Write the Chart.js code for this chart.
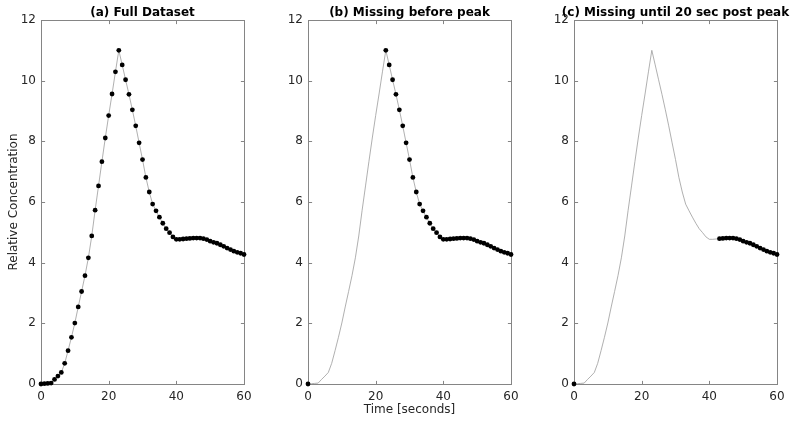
<!DOCTYPE html>
<html><head><meta charset="utf-8">
<script src="https://cdn.jsdelivr.net/npm/chart.js@4/dist/chart.umd.min.js"></script>
<style>
html,body{margin:0;padding:0;background:#fff;width:800px;height:424px;overflow:hidden;position:relative}
canvas{position:absolute;top:0;width:266px;height:424px}
</style></head><body>
<canvas id="c0" width="266" height="424" style="left:0px"></canvas>
<canvas id="c1" width="266" height="424" style="left:267px"></canvas>
<canvas id="c2" width="266" height="424" style="left:533px"></canvas>
<script>
// ---- data ----
const time = [0,1,2,3,4,5,6,7,8,9,10,11,12,13,14,15,16,17,18,19,20,21,22,23,24,25,26,27,28,29,30,
  31,32,33,34,35,36,37,38,39,40,41,42,43,44,45,46,47,48,49,50,51,52,53,54,55,56,57,58,59,60];
const concentration = [0,0.01,0.02,0.03,0.15,0.26,0.38,0.68,1.10,1.54,2.01,2.54,3.05,3.57,4.16,4.88,
  5.73,6.53,7.33,8.11,8.85,9.56,10.29,11.0,10.52,10.03,9.55,9.04,8.51,7.95,7.40,6.81,6.33,5.93,5.71,5.50,
  5.30,5.12,4.99,4.85,4.77,4.77,4.78,4.79,4.80,4.81,4.81,4.81,4.79,4.76,4.71,4.67,4.64,4.59,4.54,4.48,
  4.43,4.38,4.34,4.31,4.27];
const panelTitles = ['(a) Full Dataset','(b) Missing before peak','(c) Missing until 20 sec post peak'];
const missingA = [];        // no gap
const missingB = [1, 22];   // samples removed (inclusive range of seconds)
const missingC = [1, 42];
const xTicks = [0, 20, 40, 60];
const yTicks = [0, 2, 4, 6, 8, 10, 12];

const FONT = 'DejaVu Sans';
const TXT = '#262626';

function pointsExcept(gap){
  const out = [];
  time.forEach((t,i)=>{
    if (gap.length===2 && t>=gap[0] && t<=gap[1]) return;
    out.push({x:t, y:concentration[i]});
  });
  return out;
}
const fullLine = time.map((t,i)=>({x:t, y:concentration[i]}));

const framePlugin = {
  id:'frame',
  beforeDatasetsDraw(chart){
    const {ctx, chartArea:a, scales:{x,y}} = chart;
    const L = Math.round(a.left)+0.5, R = Math.round(a.right)+0.5, T = Math.round(a.top)+0.5, B = Math.round(a.bottom)+0.5;
    ctx.save();
    ctx.strokeStyle = '#858585'; ctx.lineWidth = 1;
    ctx.strokeRect(L, T, R-L, B-T);
    const tl = 3.6;
    ctx.beginPath();
    x.ticks.forEach(tk=>{
      const px = Math.round(x.getPixelForValue(tk.value))+0.5;
      ctx.moveTo(px, B); ctx.lineTo(px, B-tl);
      ctx.moveTo(px, T); ctx.lineTo(px, T+tl);
    });
    y.ticks.forEach(tk=>{
      const py = Math.round(y.getPixelForValue(tk.value))+0.5;
      ctx.moveTo(L, py); ctx.lineTo(L+tl, py);
      ctx.moveTo(R, py); ctx.lineTo(R-tl, py);
    });
    ctx.stroke();
    ctx.restore();
  },
  afterDraw(chart, args, opts){
    const {ctx, chartArea:a} = chart;
    ctx.save();
    ctx.font = 'bold 12px "' + FONT + '"';
    ctx.fillStyle = '#000';
    ctx.textAlign = 'center';
    ctx.textBaseline = 'middle';
    ctx.fillText(opts.title, (a.left + a.right)/2, 12.5);
    ctx.restore();
  }
};

function makeChart(id, title, gap, yTitle, xTitle){
  return new Chart(document.getElementById(id), {
    type:'scatter',
    data:{datasets:[
      {data:pointsExcept(gap), showLine:false, pointRadius:2.4, pointHoverRadius:2.4,
       pointBackgroundColor:'#000', pointBorderColor:'#000', pointBorderWidth:0, clip:false},
      {data:fullLine, showLine:true, borderColor:'#9c9c9c', borderWidth:0.8, pointRadius:0,
       pointHoverRadius:0, tension:0, clip:false}
    ]},
    options:{
      responsive:false, animation:false, events:[],
      layout:{padding:{left:0,right:22,top:20,bottom:0}},
      plugins:{legend:{display:false}, tooltip:{enabled:false}, frame:{title:title}},
      scales:{
        x:{type:'linear', min:0, max:60,
           afterBuildTicks(s){ s.ticks = xTicks.map(v=>({value:v})); },
           ticks:{padding:6, color:TXT, font:{family:FONT, size:12}, maxRotation:0},
           grid:{display:false, drawTicks:false}, border:{display:false},
           title:{display:!!xTitle, text:xTitle||'', color:TXT, font:{family:FONT, size:12}, padding:{top:7,bottom:7}},
           afterFit(s){ s.height = 40; }},
        y:{type:'linear', min:0, max:12,
           afterBuildTicks(s){ s.ticks = yTicks.map(v=>({value:v})); },
           ticks:{padding:5, color:TXT, font:{family:FONT, size:12}},
           grid:{display:false, drawTicks:false}, border:{display:false},
           title:{display:!!yTitle, text:yTitle||'', color:TXT, font:{family:FONT, size:12}, padding:{top:7,bottom:7}},
           afterFit(s){ s.width = 41; }}
      }
    },
    plugins:[framePlugin]
  });
}

makeChart('c0', panelTitles[0], missingA, 'Relative Concentration', null);
makeChart('c1', panelTitles[1], missingB, null, 'Time [seconds]');
makeChart('c2', panelTitles[2], missingC, null, null);
</script>
</body></html>
